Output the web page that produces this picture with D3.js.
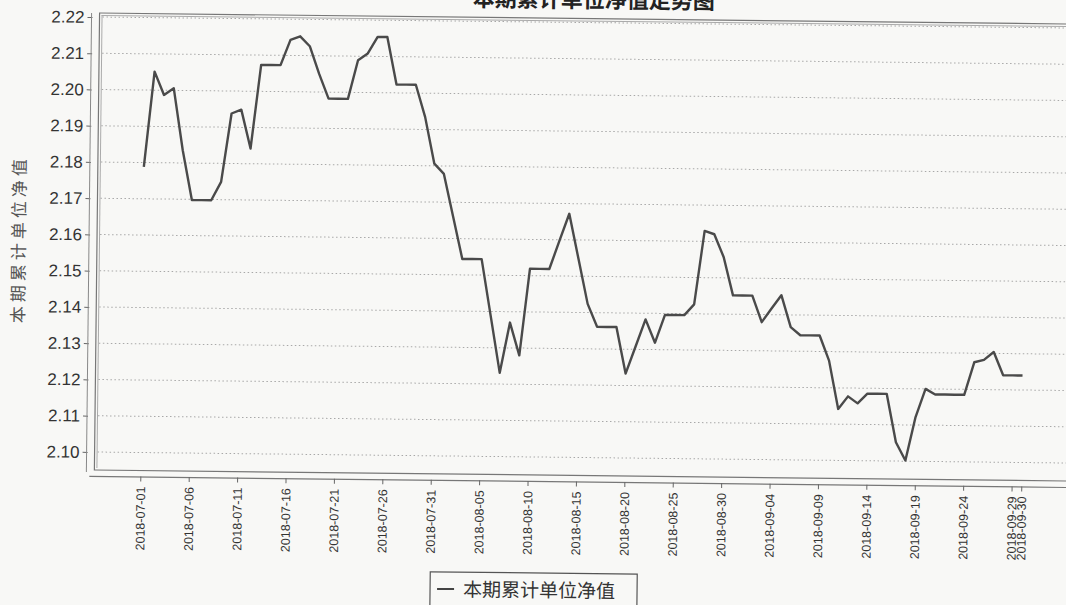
<!DOCTYPE html>
<html>
<head>
<meta charset="utf-8">
<script src="https://cdn.jsdelivr.net/npm/d3@7"></script>
<style>
  body { margin: 0; background: #f8f8f6; }
  svg { display: block; }
</style>
</head>
<body>
<svg id="chart"></svg>
<script>
const startDate = '2018-07-01';
const endDate = '2018-09-30';

// 本期累计单位净值, one value per calendar day from 07-01 to 09-30
const navValues = [
  2.1788, 2.2051, 2.1987, 2.2006, 2.1835, 2.1698, 2.1698, 2.1698, 2.1749, 2.1938,
  2.1949, 2.1842, 2.2073, 2.2073, 2.2073, 2.2143, 2.2153, 2.2126, 2.2050, 2.1982,
  2.1982, 2.1982, 2.2089, 2.2108, 2.2154, 2.2154, 2.2023, 2.2023, 2.2023, 2.1934,
  2.1806, 2.1778, 2.1661, 2.1544, 2.1544, 2.1544, 2.1388, 2.1231, 2.1370, 2.1280,
  2.1519, 2.1519, 2.1519, 2.1596, 2.1672, 2.1548, 2.1424, 2.1361, 2.1361, 2.1361,
  2.1233, 2.1308, 2.1383, 2.1319, 2.1396, 2.1396, 2.1396, 2.1426, 2.1629, 2.1620,
  2.1557, 2.1452, 2.1452, 2.1452, 2.1379, 2.1417, 2.1454, 2.1366, 2.1344, 2.1344,
  2.1344, 2.1275, 2.1142, 2.1177, 2.1158, 2.1185, 2.1185, 2.1185, 2.1052, 2.1002,
  2.1122, 2.1200, 2.1185, 2.1185, 2.1185, 2.1185, 2.1275, 2.1282, 2.1304, 2.1240,
  2.1240, 2.1240
];

const xTickLabels = [
  '2018-07-01', '2018-07-06', '2018-07-11', '2018-07-16', '2018-07-21', '2018-07-26',
  '2018-07-31', '2018-08-05', '2018-08-10', '2018-08-15', '2018-08-20', '2018-08-25',
  '2018-08-30', '2018-09-04', '2018-09-09', '2018-09-14', '2018-09-19', '2018-09-24',
  '2018-09-29', '2018-09-30'
];

const yTicks = [2.10, 2.11, 2.12, 2.13, 2.14, 2.15, 2.16, 2.17, 2.18, 2.19, 2.20, 2.21, 2.22];

const seriesName = '本期累计单位净值';
const titleText = '本期累计单位净值走势图';

const width = 1066;
const height = 605;
const parse = d3.timeParse('%Y-%m-%d');

const dates = d3.timeDay.range(parse(startDate), d3.timeDay.offset(parse(endDate), 1));
const data = dates.map((d, i) => ({ date: d, value: navValues[i] }));

const svg = d3.select('#chart')
  .attr('width', width)
  .attr('height', height)
  .style('background', '#f8f8f6');

// the scan is slightly tilted, right side lower
const g = svg.append('g')
  .attr('transform', 'rotate(0.65, 97, 240)');

const x = d3.scaleTime()
  .domain([parse(startDate), parse(endDate)])
  .range([143, 1024]);

const y = d3.scaleLinear()
  .domain([2.10, 2.22])
  .range([452, 17]);

// title, mostly cut off at the top edge like the scan
g.append('text')
  .attr('x', 712)
  .attr('y', 2)
  .attr('text-anchor', 'end')
  .style('font-family', '"Noto Sans CJK SC", sans-serif')
  .style('font-size', '22px')
  .style('font-weight', 'bold')
  .style('fill', '#222')
  .text(titleText);

// grid lines
g.append('g')
  .selectAll('line')
  .data(yTicks)
  .enter()
  .append('line')
  .attr('x1', 100)
  .attr('x2', 1080)
  .attr('y1', d => y(d))
  .attr('y2', d => y(d))
  .attr('stroke', '#a8a8a8')
  .attr('stroke-width', 1)
  .attr('stroke-dasharray', '1.5,2.5');

// plot frame (double line like the scan)
g.append('rect')
  .attr('x', 97)
  .attr('y', 13)
  .attr('width', 990)
  .attr('height', 457)
  .attr('fill', 'none')
  .attr('stroke', '#777')
  .attr('stroke-width', 1.2);

g.append('line')
  .attr('x1', 99.5).attr('x2', 99.5)
  .attr('y1', 15).attr('y2', 468)
  .attr('stroke', '#aaa');

g.append('line')
  .attr('x1', 99).attr('x2', 1080)
  .attr('y1', 15.5).attr('y2', 15.5)
  .attr('stroke', '#aaa');

// y axis
const yAxis = d3.axisLeft(y)
  .tickValues(yTicks)
  .tickFormat(d3.format('.2f'))
  .tickSize(5)
  .tickSizeOuter(0);

const yG = g.append('g')
  .attr('transform', 'translate(90,0)')
  .call(yAxis);

yG.select('.domain').remove();
yG.selectAll('line').attr('stroke', '#666');
yG.selectAll('text')
  .attr('x', -8)
  .style('font-family', '"Liberation Sans", Arial, sans-serif')
  .style('font-size', '17px')
  .style('fill', '#333');

g.append('line')
  .attr('x1', 89).attr('x2', 89)
  .attr('y1', 13).attr('y2', 472)
  .attr('stroke', '#888');

g.append('text')
  .attr('transform', 'translate(25,240) rotate(-90)')
  .attr('text-anchor', 'middle')
  .style('font-family', '"Noto Sans CJK SC", sans-serif')
  .style('font-size', '17px')
  .style('letter-spacing', '4px')
  .style('fill', '#555')
  .text(seriesName);

// x axis
const xAxis = d3.axisBottom(x)
  .tickValues(xTickLabels.map(parse))
  .tickFormat(d3.timeFormat('%Y-%m-%d'))
  .tickSize(5)
  .tickSizeOuter(0);

const xG = g.append('g')
  .attr('transform', 'translate(0,476)')
  .call(xAxis);

xG.select('.domain')
  .attr('d', 'M92,0.5H1080')
  .attr('stroke', '#777')
  .attr('stroke-width', 1.2);
xG.selectAll('line').attr('stroke', '#666');
xG.selectAll('text')
  .attr('transform', 'rotate(-90)')
  .attr('x', -10)
  .attr('y', 0)
  .attr('dy', '0.35em')
  .attr('text-anchor', 'end')
  .style('font-family', '"Liberation Sans", Arial, sans-serif')
  .style('font-size', '12.5px')
  .style('fill', '#333');

// the line
const line = d3.line()
  .x(d => x(d.date))
  .y(d => y(d.value));

g.append('path')
  .datum(data)
  .attr('fill', 'none')
  .attr('stroke', '#4a4a4a')
  .attr('stroke-width', 2.4)
  .attr('stroke-linejoin', 'round')
  .attr('d', line);

// legend
const legend = g.append('g')
  .attr('transform', 'translate(434,568)');

legend.append('rect')
  .attr('width', 207)
  .attr('height', 34)
  .attr('fill', 'none')
  .attr('stroke', '#555')
  .attr('stroke-width', 1.2);

legend.append('line')
  .attr('x1', 7).attr('x2', 24)
  .attr('y1', 17).attr('y2', 17)
  .attr('stroke', '#444')
  .attr('stroke-width', 2);

legend.append('text')
  .attr('x', 33)
  .attr('y', 24)
  .style('font-family', '"Noto Sans CJK SC", sans-serif')
  .style('font-size', '19px')
  .style('fill', '#333')
  .text(seriesName);
</script>
</body>
</html>
